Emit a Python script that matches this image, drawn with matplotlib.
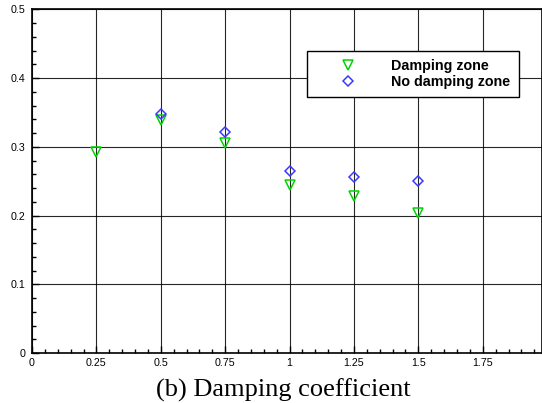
import matplotlib
matplotlib.use("Agg")
import matplotlib.pyplot as plt
from matplotlib.ticker import MultipleLocator, FuncFormatter

# values
coef = [0.25, 0.5, 0.75, 1.0, 1.25, 1.5]
damping = [0.293, 0.339, 0.305, 0.245, 0.229, 0.204]
coef_nd = [0.5, 0.75, 1.0, 1.25, 1.5]
no_damping = [0.347, 0.322, 0.265, 0.256, 0.250]

green = "#00d400"
blue = "#3a3aff"

plt.rcParams["font.family"] = "Liberation Sans"

fig = plt.figure(figsize=(5.42, 4.03), dpi=100)
ax = fig.add_axes([32 / 542, 50 / 403, 1 - 32 / 542, 343.7 / 403])

ax.plot(coef, damping, linestyle="none", marker="v", markersize=6.8,
        markerfacecolor="none", markeredgecolor=green, markeredgewidth=1.1,
        label="Damping zone", zorder=3)
ax.plot(coef_nd, no_damping, linestyle="none", marker="D", markersize=5.6,
        markerfacecolor="none", markeredgecolor=blue, markeredgewidth=1.1,
        label="No damping zone", zorder=3)

ax.set_xlim(0, 1.98)
ax.set_ylim(0, 0.5)
ax.xaxis.set_major_locator(MultipleLocator(0.25))
ax.xaxis.set_minor_locator(MultipleLocator(0.05))
ax.yaxis.set_major_locator(MultipleLocator(0.1))
ax.yaxis.set_minor_locator(MultipleLocator(0.02))
ax.xaxis.set_major_formatter(FuncFormatter(lambda v, p: ("%g" % round(v, 2))))
ax.yaxis.set_major_formatter(FuncFormatter(lambda v, p: ("%g" % round(v, 2))))

ax.grid(True, which="major", color="black", linewidth=0.8, alpha=0.85)
ax.tick_params(which="both", direction="in", labelsize=7.7, top=False, right=False)
ax.tick_params(which="major", length=5, width=1)
ax.tick_params(which="minor", length=3, width=1)
ax.tick_params(axis="x", pad=3.5)
ax.tick_params(axis="y", pad=4.5)
for s in ax.spines.values():
    s.set_linewidth(1.2)

leg = ax.legend(loc="upper left", bbox_to_anchor=(275 / 510, (353 - 50.7) / 343.7),
                frameon=True, fancybox=False, edgecolor="black",
                prop={"weight": "bold", "size": 10.3}, handlelength=4.5,
                handletextpad=0.8, borderpad=0.6, labelspacing=0.1,
                borderaxespad=0, framealpha=1)
leg.get_frame().set_linewidth(1.0)

fig.text(283 / 542, 1 - 390 / 403, "(b) Damping coefficient", ha="center", va="center",
         fontsize=19, family="Liberation Serif")

fig.savefig("out.png", dpi=100)
